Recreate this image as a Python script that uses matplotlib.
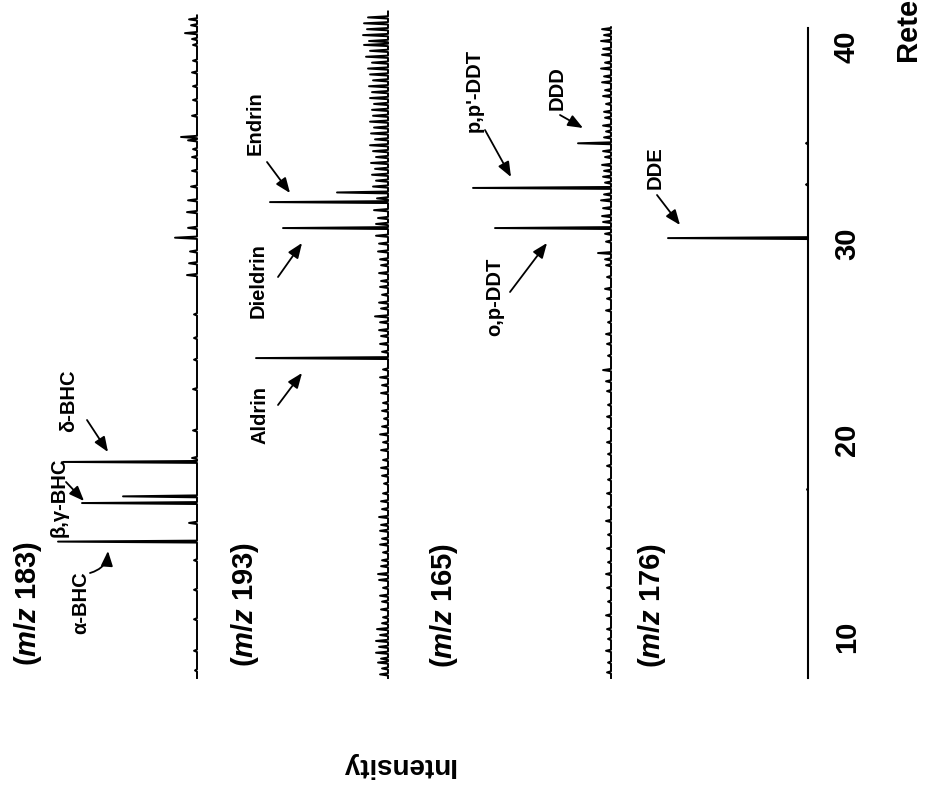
import numpy as np
import matplotlib
matplotlib.use("Agg")
import matplotlib.pyplot as plt

plt.rcParams['font.family'] = ['Liberation Sans', 'DejaVu Sans']
plt.rcParams['font.weight'] = 'bold'
plt.rcParams['mathtext.fontset'] = 'custom'
plt.rcParams['mathtext.rm'] = 'Liberation Sans:bold'
plt.rcParams['mathtext.it'] = 'Liberation Sans:italic:bold'
plt.rcParams['mathtext.bf'] = 'Liberation Sans:bold'

# ---- data: retention time (min) and intensity (a.u.) ----
ions = ['183', '193', '165', '176']
trace_end = [41.6, 41.8, 41.0, 40.96]

# main peaks
m183_t = [14.85, 16.81, 17.15, 18.90]
m183_h = [139, 115, 74, 134]
m193_t = [24.18, 30.79, 32.11, 32.60]
m193_h = [132, 105, 118, 51]
m165_t = [30.79, 32.83, 35.10, 29.52]
m165_h = [116, 138, 33, 13]
m176_t = [30.28]
m176_h = [140]

# small peaks / noise
m183_minor_t = [8.3, 9.3, 10.9, 12.4, 13.9, 15.8, 19.1, 20.5, 22.6, 24.1, 25.2, 26.4,
                28.4, 29.0, 29.6, 30.3, 30.8, 31.6, 32.2, 32.9, 33.7, 34.4, 34.8, 35.25,
                35.42, 36.5, 37.3, 38.0, 38.7, 39.3, 40.1, 40.4, 40.7, 41.1, 41.4]
m183_minor_h = [2, 3, 3, 3, 3, 8, 5, 4, 4, 3, 3, 3,
                10, 8, 7, 22, 9, 10, 9, 6, 5, 5, 4, 9,
                16, 5, 4, 4, 5, 4, 4, 5, 12, 6, 8]

m193_minor_t = [8.1, 8.4, 8.7, 8.9, 9.2, 9.5, 9.8, 10.1, 10.4, 10.7,
                11.0, 11.4, 11.8, 12.1, 12.5, 12.9, 13.2, 13.6, 13.9,
                14.3, 14.7, 15.0, 15.4, 15.7, 16.1, 16.5, 16.9,
                17.3, 17.8, 18.2, 18.6, 19.0, 19.5, 19.9, 20.3, 20.7,
                21.1, 21.5, 21.9, 22.4, 22.8, 23.2, 23.6,
                24.5, 24.9, 25.3, 25.6, 26.0, 26.3, 26.7, 27.0, 27.4, 27.8, 28.1, 28.5,
                28.9, 29.2, 29.6, 30.0, 30.4,
                31.0, 31.3, 31.7, 32.3, 32.9, 33.2,
                33.5, 33.8, 34.1, 34.4, 34.7, 35.0, 35.3, 35.6, 35.9, 36.2, 36.5, 36.8,
                37.1, 37.4, 37.7,
                38.0, 38.3, 38.6, 38.9, 39.2, 39.5, 39.8, 40.1, 40.3, 40.6, 40.9, 41.2, 41.5]
m193_minor_h = [8, 6, 10, 7, 12, 9, 12, 8, 11, 6,
                5, 7, 6, 8, 5, 9, 10, 7, 6,
                5, 8, 6, 8, 7, 9, 6, 7,
                5, 4, 6, 7, 5, 7, 5, 8, 6,
                4, 6, 5, 7, 6, 8, 5,
                6, 8, 7, 9, 8, 13, 7, 9, 6, 8, 7, 9,
                7, 8, 10, 9, 12,
                12, 10, 14, 11, 15, 12,
                16, 13, 17, 12, 15, 18, 13, 17, 14, 18, 15, 16,
                14, 18, 16,
                19, 15, 18, 20, 16, 22, 18, 24, 19, 25, 21, 24, 20]

m165_minor_t = [8.2, 8.7, 9.3, 9.9, 10.4, 11.1, 11.8, 12.5, 13.2, 13.8, 14.5, 15.2,
                15.9, 16.6, 17.3, 18.0, 18.7, 19.3, 19.9, 20.6, 21.2, 21.8, 22.5,
                23.0, 23.57, 24.3, 24.9, 25.4, 26.0, 26.6, 27.2, 27.7, 28.3, 28.9, 29.2,
                30.1, 30.5, 31.1, 31.4, 31.8, 32.2, 32.5, 33.1, 33.4, 33.7, 34.0, 34.4,
                34.7, 35.4, 35.7, 36.0, 36.4, 36.7, 37.1, 37.5, 37.8, 38.2, 38.5, 38.9,
                39.2, 39.6, 39.9, 40.3, 40.6, 40.9]
m165_minor_h = [4, 3, 5, 3, 4, 5, 3, 4, 5, 3, 4, 3,
                5, 3, 4, 3, 4, 3, 4, 3, 4, 3, 4,
                5, 8, 3, 4, 5, 3, 5, 4, 6, 4, 5, 6,
                5, 6, 8, 9, 8, 10, 7, 6, 8, 7, 9, 6,
                8, 7, 5, 8, 6, 7, 5, 8, 6, 9, 7, 10,
                6, 9, 8, 10, 7, 9]

m176_minor_t = [17.5, 33.0, 35.1]
m176_minor_h = [1, 2, 2]

labels = ['\u03b1-BHC', '\u03b2,\u03b3-BHC', '\u03b4-BHC', 'Aldrin', 'Dieldrin', 'Endrin',
          "p,p'-DDT", 'o,p-DDT', 'DDD', 'DDE']

# ---- layout (reference pixel frame -> data) ----
W, H = 928, 785
AXIS_PX = 808
T10_PX = 637
PX_PER_MIN = 19.67
offsets = [611, 420, 197, 0]


def px(x, y):
    return AXIS_PX - x, 10 + (T10_PX - y) / PX_PER_MIN


def build_trace(t0, t1, peaks):
    ts, ys = [t0], [0.0]
    for t, h, w in sorted(peaks):
        ts += [t - w, t, t + w]
        ys += [0.0, h, 0.0]
    ts.append(t1)
    ys.append(0.0)
    return np.array(ts), np.array(ys)


fig = plt.figure(figsize=(W / 100, H / 100), dpi=100)
ax = fig.add_axes([0, (H - 678) / H, AXIS_PX / W, (678 - 28) / H])
ax.set_xlim(AXIS_PX, 0)
ax.set_ylim(px(0, 678)[1], px(0, 28)[1])

for s in ['left', 'top', 'bottom']:
    ax.spines[s].set_visible(False)
ax.spines['right'].set_linewidth(1.5)
ax.set_xticks([])
ax.set_yticks([10, 20, 30, 40])
ax.yaxis.tick_right()
ax.tick_params(axis='y', length=0, pad=18, labelsize=21, labelrotation=90)
for lab in ax.get_yticklabels():
    lab.set_fontweight('bold')
    lab.set_va('center')

majors = [(m183_t, m183_h), (m193_t, m193_h), (m165_t, m165_h), (m176_t, m176_h)]
minors = [(m183_minor_t, m183_minor_h), (m193_minor_t, m193_minor_h),
          (m165_minor_t, m165_minor_h), (m176_minor_t, m176_minor_h)]

t_start = px(0, 678)[1]
for i in range(4):
    peaks = [(t, h, 0.05) for t, h in zip(*majors[i])]
    peaks += [(t, h, 0.06) for t, h in zip(*minors[i])]
    t, y = build_trace(t_start, trace_end[i], peaks)
    ax.plot(offsets[i] + y, t, color='black', lw=1.4, clip_on=False)

# ion labels
ion_pos = [(28, 603), (245, 604), (444, 605), (652, 605)]
for ion, (x, y) in zip(ions, ion_pos):
    ax.text(*px(x, y), '($m/z$ ' + ion + ')', rotation=90, ha='center', va='center',
            fontsize=21, fontweight='bold')

# peak labels with arrows: text centre, arrow start, arrow tip
ann = [((81, 603), (90, 573), (108, 551)),
       ((59, 497), (66, 482), (84, 501)),
       ((69, 401), (87, 420), (108, 452)),
       ((260, 415), (278, 405), (302, 373)),
       ((258, 281), (278, 277), (302, 243)),
       ((255, 123), (267, 162), (290, 193)),
       ((474, 90), (485, 130), (511, 177)),
       ((495, 297), (510, 292), (547, 243)),
       ((557, 88), (560, 115), (583, 128)),
       ((655, 168), (657, 195), (680, 225))]
for k, (lab, (tp, ap, tip)) in enumerate(zip(labels, ann)):
    ax.text(*px(*tp), lab, rotation=90, ha='center', va='center', fontsize=14.5,
            fontweight='bold')
    conn = 'arc3,rad=0.35' if k == 0 else 'arc3,rad=0'
    ax.annotate('', xy=px(*tip), xytext=px(*ap),
                arrowprops=dict(arrowstyle='-|>,head_length=0.45,head_width=0.18',
                                mutation_scale=20, color='black', lw=1.3,
                                shrinkA=0, shrinkB=0, connectionstyle=conn))

fig.text(910 / W, 1 - 63 / H, 'Retention time (min)', rotation=90, ha='center',
         va='bottom', fontsize=21, fontweight='bold')
fig.text(398 / W, 1 - 765 / H, 'Intensity', rotation=180, ha='center', va='center',
         fontsize=20, fontweight='bold')

fig.savefig('out.png', dpi=100)
